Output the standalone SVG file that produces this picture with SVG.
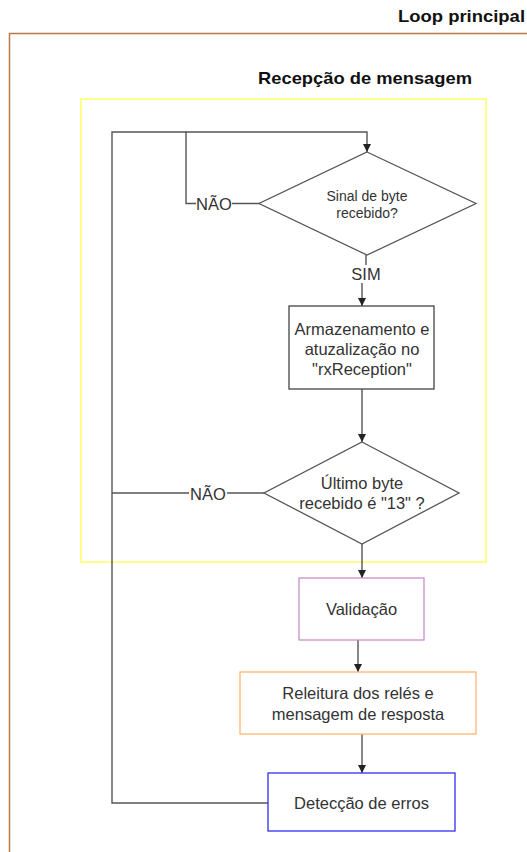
<svg xmlns="http://www.w3.org/2000/svg" width="527" height="852" viewBox="0 0 527 852">
  <defs>
    <marker id="arrow" viewBox="0 0 10 10" refX="10" refY="5" markerWidth="8" markerHeight="8" markerUnits="userSpaceOnUse" orient="auto">
      <path d="M0,0 L10,5 L0,10 Z" fill="#222"/>
    </marker>
  </defs>
  <style>
    .title { font-family: "Liberation Sans", Arial, sans-serif; font-weight: bold; fill: #111; }
    .txt { font-family: "Liberation Sans", Arial, sans-serif; font-size: 16.5px; fill: #333; text-anchor: middle; dominant-baseline: central; }
    .small { font-size: 14px; }
    .node { fill: #fff; stroke-width: 1.3; }
    .edge { fill: none; stroke: #555; stroke-width: 1.4; }
    .lbl { fill: #fff; }
  </style>
  <rect width="527" height="852" fill="#fff"/>

  <!-- outer container: Loop principal -->
  <g id="loop-principal">
    <text class="title" x="525" y="22" font-size="16" text-anchor="end" textLength="127" lengthAdjust="spacingAndGlyphs">Loop principal</text>
    <path d="M540,33.5 H9.5 V860" fill="none" stroke="#b97a45" stroke-width="1.5"/>
  </g>

  <!-- inner container: Recepção de mensagem -->
  <g id="recepcao">
    <text class="title" x="365" y="84" font-size="17" text-anchor="middle" textLength="214" lengthAdjust="spacingAndGlyphs">Recepção de mensagem</text>
    <rect x="81" y="99" width="405" height="463" fill="none" stroke="#ffff66" stroke-width="1.5"/>
  </g>

  <!-- connectors -->
  <g id="connectors">
    <path class="edge" d="M366,255 V275 H362 V306" marker-end="url(#arrow)"/>
    <path class="edge" d="M362,389 V442" marker-end="url(#arrow)"/>
    <path class="edge" d="M362,544 V578" marker-end="url(#arrow)"/>
    <path class="edge" d="M358,640 V672" marker-end="url(#arrow)"/>
    <path class="edge" d="M362,734 V773" marker-end="url(#arrow)"/>
    <!-- NÃO from first decision back to its own top -->
    <path class="edge" d="M259,203.5 H186 V132 H367 V152" marker-end="url(#arrow)"/>
    <!-- NÃO from second decision back to the loop line -->
    <path class="edge" d="M264,493 H112"/>
    <!-- error detection returns to the start -->
    <path class="edge" d="M268,803 H112 V132 H186"/>
    <!-- edge labels -->
    <rect class="lbl" x="196" y="195" width="36" height="17"/>
    <text class="txt" x="214" y="204">NÃO</text>
    <rect class="lbl" x="347" y="265" width="36" height="18"/>
    <text class="txt" x="366" y="274">SIM</text>
    <rect class="lbl" x="189" y="485" width="38" height="17"/>
    <text class="txt" x="208" y="494">NÃO</text>
  </g>

  <g id="sinal-byte">
    <polygon class="node" points="367,152 476,203.5 367,255 259,203.5" stroke="#555"/>
    <text class="txt small" x="367" y="196">Sinal de byte</text>
    <text class="txt small" x="367" y="213">recebido?</text>
  </g>

  <g id="armazenamento">
    <rect class="node" x="289" y="306" width="145" height="83" stroke="#444"/>
    <text class="txt" x="362" y="329">Armazenamento e</text>
    <text class="txt" x="362" y="349">atuzalização no</text>
    <text class="txt" x="362" y="369">"rxReception"</text>
  </g>

  <g id="ultimo-byte">
    <polygon class="node" points="362,442 459,493 362,544 264,493" stroke="#555"/>
    <text class="txt" x="362" y="483">Último byte</text>
    <text class="txt" x="362" y="503">recebido é "13" ?</text>
  </g>

  <g id="validacao">
    <rect class="node" x="299" y="578" width="125" height="62" stroke="#c890c8"/>
    <text class="txt" x="361.5" y="609">Validação</text>
  </g>

  <g id="releitura">
    <rect class="node" x="240" y="672" width="236" height="62" stroke="#ffb570"/>
    <text class="txt" x="358" y="693">Releitura dos relés e</text>
    <text class="txt" x="358" y="714">mensagem de resposta</text>
  </g>

  <g id="deteccao">
    <rect class="node" x="268" y="773" width="187" height="58" stroke="#3030ee"/>
    <text class="txt" x="361.5" y="803">Detecção de erros</text>
  </g>
</svg>
